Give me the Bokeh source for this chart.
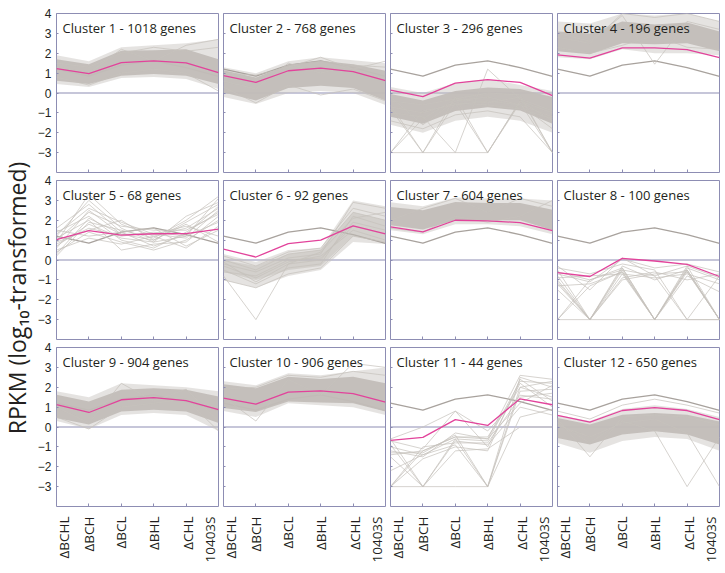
import math
from bokeh.plotting import figure
from bokeh.models import Range1d, FixedTicker, LinearAxis, Span, Label
from bokeh.layouts import gridplot, row
from bokeh.embed import file_html
from bokeh.resources import INLINE

# ---------------- data ----------------
CATEGORIES = ["ΔBCHL", "ΔBCH", "ΔBCL", "ΔBHL", "ΔCHL", "10403S"]
GENE_COUNTS = [1018, 768, 296, 196, 68, 92, 604, 100, 904, 906, 44, 650]
Y_TICKS = [4, 3, 2, 1, 0, -1, -2, -3]
Y_LABEL = "RPKM (log₁₀-transformed)"

# dark grey profile repeated in every panel
REFERENCE_PROFILE = [1.2, 0.85, 1.4, 1.62, 1.28, 0.84]

# magenta cluster mean profiles
MEAN_PROFILES = [
    [1.23, 0.98, 1.53, 1.62, 1.52, 1.03],
    [0.87, 0.53, 1.12, 1.25, 1.08, 0.62],
    [0.15, -0.18, 0.50, 0.67, 0.53, -0.13],
    [1.92, 1.75, 2.27, 2.27, 2.18, 1.78],
    [1.03, 1.48, 1.25, 1.32, 1.33, 1.55],
    [0.55, 0.15, 0.82, 1.00, 1.72, 1.32],
    [1.67, 1.42, 2.00, 1.97, 1.88, 1.48],
    [-0.63, -0.83, 0.08, -0.05, -0.22, -0.83],
    [1.12, 0.73, 1.37, 1.48, 1.33, 0.87],
    [1.45, 1.15, 1.75, 1.82, 1.68, 1.25],
    [-0.67, -0.52, 0.37, 0.08, 1.42, 1.12],
    [0.58, 0.25, 0.83, 0.98, 0.83, 0.37],
]

# dense core of the gene profiles (None = no dense core)
CORE_LOW = [
    [0.62, 0.45, 0.87, 0.95, 0.87, 0.45],
    [0.03, -0.38, 0.25, 0.37, 0.25, -0.38],
    [-1.2, -1.55, -0.9, -0.72, -0.88, -1.55],
    [2.1, 1.95, 2.5, 2.45, 2.5, 2.1],
    None,
    [-0.6, -1.0, -0.5, -0.3, 1.2, 0.9],
    [1.75, 1.53, 2.0, 2.0, 2.0, 1.5],
    None,
    [0.45, 0.12, 0.78, 0.87, 0.78, 0.2],
    [0.95, 0.75, 1.28, 1.23, 1.2, 0.78],
    None,
    [-0.55, -0.88, -0.38, -0.22, -0.38, -0.88],
]
CORE_HIGH = [
    [1.7, 1.45, 2.12, 2.15, 2.2, 1.7],
    [1.15, 0.78, 1.42, 1.62, 1.45, 1.12],
    [-0.05, -0.38, 0.1, 0.28, 0.2, -0.2],
    [3.1, 3.0, 3.6, 3.45, 3.55, 3.1],
    None,
    [0.0, -0.3, 0.3, 0.5, 2.4, 2.0],
    [2.67, 2.5, 2.92, 2.87, 2.87, 2.53],
    None,
    [1.62, 1.28, 1.87, 1.95, 1.87, 1.53],
    [2.15, 1.95, 2.53, 2.42, 2.53, 2.2],
    None,
    [0.45, 0.12, 0.62, 0.7, 0.62, 0.28],
]

# sparse outer fringe of the gene profiles
SPREAD_LOW = [
    [0.45, 0.3, 0.75, 0.8, 0.7, 0.2],
    [-0.2, -0.55, 0.0, 0.1, 0.0, -0.6],
    [-1.6, -2.0, -1.4, -1.2, -1.4, -2.0],
    [1.8, 1.7, 2.2, 2.0, 2.0, 1.9],
    None,
    [-1.0, -1.4, -0.8, -0.5, 0.9, 0.8],
    [1.5, 1.3, 1.8, 1.8, 1.7, 1.3],
    None,
    [0.3, -0.1, 0.6, 0.7, 0.6, -0.2],
    [0.8, 0.5, 1.2, 1.1, 1.0, 0.6],
    None,
    [-0.8, -1.3, -0.7, -0.5, -0.6, -1.2],
]
SPREAD_HIGH = [
    [1.9, 1.6, 2.3, 2.4, 2.5, 2.7],
    [1.3, 1.0, 1.6, 1.8, 1.65, 1.5],
    [0.3, 0.0, 0.5, 0.7, 0.4, 0.1],
    [3.6, 3.5, 4.0, 3.9, 4.0, 3.6],
    None,
    [0.3, -0.1, 0.5, 0.6, 3.0, 2.7],
    [2.9, 2.7, 3.15, 3.1, 3.1, 3.0],
    None,
    [1.8, 1.5, 2.2, 2.1, 2.0, 1.8],
    [2.3, 2.1, 2.7, 2.6, 2.8, 3.0],
    None,
    [0.6, 0.3, 0.9, 1.1, 0.9, 0.5],
]

# individual gene profiles that stand out of the bands
GENES_C1 = [[1.3, 1.0, 2.2, 1.6, 2.4, 2.7], [0.8, 0.4, 1.0, 1.2, 1.0, 0.1],
            [1.5, 1.3, 2.0, 2.3, 2.1, 2.3]]
GENES_C2 = [[0.3, -0.5, 0.4, -0.1, 0.2, -0.4], [1.0, 0.9, 1.3, 1.8, 1.2, 1.6],
            [0.6, 0.2, 1.5, 1.0, 1.4, 1.3]]
GENES_C3 = [[-3.0, -0.9, -0.6, -0.4, -0.6, -1.2], [-3.0, -1.3, -0.3, -0.5, -0.2, -3.0],
            [-0.6, -3.0, -0.2, -3.0, -0.5, -3.0], [-0.8, -3.0, -3.0, -3.0, -0.4, -1.0],
            [-1.0, -1.2, -3.0, 1.2, -0.3, -0.9], [-0.4, -0.6, -0.3, 0.0, -0.1, -3.0],
            [-0.7, -1.0, -0.5, -3.0, -0.4, -1.4], [-3.0, -3.0, -0.5, -0.6, -0.8, -1.3],
            [-1.4, -1.8, -1.1, -0.9, -1.2, -3.0], [-0.2, -1.6, -0.4, -0.2, -0.6, -1.8]]
GENES_C4 = [[3.0, 2.6, 3.9, 1.45, 3.6, 3.2], [2.8, 2.5, 4.0, 3.8, 4.0, 3.6],
            [2.3, 2.0, 2.4, 2.9, 2.3, 2.2]]
GENES_C5 = [[0.9, 3.3, 1.8, 1.2, 1.6, 2.6], [1.2, 3.0, 1.6, 0.9, 1.2, 3.1],
            [0.6, 2.5, 1.3, 1.0, 1.9, 2.8], [1.4, 2.2, 1.0, 0.6, 1.4, 2.4],
            [0.2, 1.9, 1.5, 1.1, 2.0, 3.2], [1.1, 2.0, 0.5, 0.8, 0.9, 2.2],
            [0.8, 1.6, 1.2, 1.4, 1.2, 1.9], [1.5, 1.2, 1.4, 1.6, 0.7, 1.5],
            [0.4, 1.4, 0.9, 0.5, 1.0, 2.0], [1.3, 2.6, 1.9, 1.3, 1.7, 1.2],
            [0.7, 1.8, 1.1, 0.9, 2.2, 2.9], [1.0, 2.4, 1.7, 1.5, 1.5, 2.3],
            [0.5, 1.1, 0.8, 1.2, 0.6, 1.7], [1.6, 2.8, 1.4, 0.7, 1.3, 2.7],
            [0.9, 1.5, 2.0, 1.0, 1.8, 0.9], [0.3, 2.1, 1.3, 1.3, 1.1, 2.5]]
GENES_C6 = [[-0.2, -0.6, 0.1, 0.3, 2.9, 2.6], [-0.5, -1.2, -0.4, -0.2, 2.2, 1.7],
            [0.2, -0.3, 0.4, 0.6, 2.6, 2.2], [-0.8, -3.0, -0.2, 0.0, 1.9, 1.5],
            [-0.3, -0.9, -0.1, 0.2, 1.5, 1.0], [-1.0, -1.4, -0.7, -0.4, 1.2, 0.9],
            [0.0, -0.5, 0.3, 0.5, 2.4, 2.0], [-0.6, -0.8, 0.0, 0.1, 1.7, 1.3],
            [-0.1, -1.1, -0.2, 0.4, 2.1, 2.4]]
GENES_C7 = [[2.0, 2.6, 3.1, 2.4, 3.1, 2.7], [1.6, 1.4, 2.2, 1.9, 2.2, 3.0]]
GENES_C8 = [[-0.8, -3.0, -0.5, -3.0, -0.5, -3.0], [-1.0, -3.0, -0.4, -3.0, -0.6, -3.0],
            [-0.5, -3.0, -0.3, -1.0, -0.5, -3.0], [-1.3, -1.2, -0.6, -3.0, -0.4, -1.0],
            [-3.0, -1.0, -0.5, -0.8, -3.0, -0.8], [-0.3, -1.5, 0.1, -0.8, -0.3, -3.0],
            [-3.0, -3.0, -3.0, -3.0, -3.0, -3.0], [-0.9, -0.8, -0.7, -0.9, -0.7, -1.2],
            [-1.5, -3.0, -0.9, -0.6, -1.0, -0.7], [-0.6, -1.0, -0.4, -3.0, -0.8, -1.6],
            [-1.1, -3.0, -0.7, -3.0, -0.3, -0.9], [-0.4, -0.7, -0.2, -0.5, -3.0, -3.0],
            [-1.2, -3.0, -1.0, -0.7, -0.6, -3.0], [-3.0, -1.3, -0.6, -3.0, -0.5, -3.0],
            [-0.7, -1.1, 0.05, -0.4, -0.2, -0.6]]
GENES_C9 = [[1.0, 0.2, 2.2, 1.3, 1.9, 0.3], [0.5, -0.1, 1.0, 1.2, 1.4, -0.2]]
GENES_C10 = [[1.5, 0.3, 2.4, 1.6, 3.2, 3.0], [1.9, 2.0, 2.6, 2.5, 2.8, 2.6]]
GENES_C11 = [[-3.0, -1.2, -0.5, -0.6, 2.6, 2.4], [-1.5, -3.0, -0.6, -0.7, 2.3, 2.2],
             [-3.0, -3.0, -3.0, -3.0, 2.0, 1.5], [-1.0, -1.4, -0.9, -3.0, 1.8, 1.9],
             [-0.7, -1.1, 0.8, -1.0, 2.2, 1.0], [-3.0, -1.0, -0.8, -0.8, 1.5, 1.7],
             [-1.3, -1.3, -0.4, -3.0, 2.5, 2.0], [-0.6, -3.0, -1.2, -1.1, 0.0, 0.0],
             [-1.2, -1.5, -0.3, -0.6, 1.2, 2.1], [-3.0, -1.6, -1.0, -1.2, 2.4, 1.3],
             [-0.9, -3.0, -0.7, -0.9, 1.0, 0.6], [-1.4, -1.2, -0.5, -0.5, 2.0, 2.3],
             [-2.2, -1.4, -0.6, -3.0, 0.5, 0.9], [-0.6, 0.0, 0.8, -0.2, 1.6, 1.4]]
GENES_C12 = [[0.2, -0.8, 0.3, -0.2, -3.0, -0.5], [0.1, -0.5, 0.2, 0.4, -0.3, -3.0],
             [0.4, -1.5, 0.5, 0.6, 0.5, 0.1], [0.8, 0.4, 1.1, 1.4, 1.1, 0.7]]

GENE_LINES = [GENES_C1, GENES_C2, GENES_C3, GENES_C4, GENES_C5, GENES_C6,
              GENES_C7, GENES_C8, GENES_C9, GENES_C10, GENES_C11, GENES_C12]

# ---------------- styling / layout ----------------
FONT = "Open Sans"
TICK_FONT = "Liberation Sans"
TEXT = "#231f20"
FRAME = "#8d8db3"
GENE = "#c6c1bc"
CORE = "#c2bdb8"
REF = "#a8a29d"
MAGENTA = "#e2439b"
FRAME_W, FRAME_H = 162, 159
LABEL_POS = [0.22, 1, 2, 3, 4.05, 4.75]
STRIP_W = 34

X = list(range(len(CATEGORIES)))


def make_panel(k, r, c):
    p = figure(
        frame_width=FRAME_W, frame_height=FRAME_H,
        x_range=Range1d(0, len(CATEGORIES) - 1), y_range=Range1d(-4, 4),
        output_backend="svg", toolbar_location=None, title=None,
        min_border_left=19 if c == 0 else 3,
        min_border_right=5 if c == 3 else 2,
        min_border_top=13 if r == 0 else 7,
        min_border_bottom=62 if r == 2 else 1,
        background_fill_color="white", border_fill_color="white",
        outline_line_color=FRAME, outline_line_width=1,
    )
    p.grid.visible = False

    # y axis (ticks inside, labels only for the first column)
    yax = p.yaxis[0]
    yax.ticker = FixedTicker(ticks=Y_TICKS)
    yax.major_tick_in = 2
    yax.major_tick_out = 0
    yax.minor_tick_in = 0
    yax.minor_tick_out = 0
    yax.axis_line_color = None
    yax.major_tick_line_color = FRAME
    if c == 0:
        yax.major_label_text_font = TICK_FONT
        yax.major_label_text_font_size = "12px"
        yax.major_label_text_color = TEXT
        yax.major_label_standoff = 5
    else:
        yax.major_label_overrides = {t: "" for t in Y_TICKS}
        yax.major_label_standoff = 0

    # x axis: inward tick marks only
    xax = p.xaxis[0]
    xax.ticker = FixedTicker(ticks=X[1:-1])
    xax.major_tick_in = 3
    xax.major_tick_out = 0
    xax.minor_tick_in = 0
    xax.minor_tick_out = 0
    xax.axis_line_color = None
    xax.major_tick_line_color = FRAME
    xax.major_label_overrides = {t: "" for t in X[1:-1]}
    xax.major_label_standoff = 0

    if r == 2:
        lab = LinearAxis(
            ticker=FixedTicker(ticks=LABEL_POS),
            major_label_overrides={pos: name for pos, name in zip(LABEL_POS, CATEGORIES)},
            major_label_orientation=math.pi / 2,
            major_tick_in=0, major_tick_out=0, minor_tick_in=0, minor_tick_out=0,
            axis_line_color=None, major_label_standoff=10,
            major_label_text_font=FONT, major_label_text_font_size="13.5px",
            major_label_text_color=TEXT,
        )
        p.add_layout(lab, "below")

    p.add_layout(Span(location=0, dimension="width", line_color=FRAME,
                      line_width=1, level="underlay"))

    if SPREAD_LOW[k] is not None:
        p.varea(x=X, y1=SPREAD_LOW[k], y2=SPREAD_HIGH[k], fill_color=GENE, fill_alpha=0.45)
    p.line(X, REFERENCE_PROFILE, line_color=REF, line_width=1.3)
    if CORE_LOW[k] is not None:
        p.varea(x=X, y1=CORE_LOW[k], y2=CORE_HIGH[k], fill_color=CORE,
                fill_alpha=0.5 if k == 5 else 0.95)
    lines = GENE_LINES[k]
    p.multi_line(xs=[X] * len(lines), ys=lines, line_color=GENE, line_alpha=0.8, line_width=0.9)
    p.line(X, MEAN_PROFILES[k], line_color=MAGENTA, line_width=1.3)

    p.add_layout(Label(x=0, y=4, x_offset=6, y_offset=-14,
                       text=f"Cluster {k + 1} - {GENE_COUNTS[k]} genes",
                       text_font=FONT, text_font_size="13px", text_color=TEXT,
                       text_baseline="alphabetic", text_align="left"))
    return p


panels = []
for r in range(3):
    panels.append([make_panel(r * 4 + c, r, c) for c in range(4)])

grid = gridplot(panels, toolbar_location=None)

TOTAL_H = (13 + FRAME_H + 1) + (7 + FRAME_H + 1) + (7 + FRAME_H + 62)
lab_fig = figure(frame_width=STRIP_W, frame_height=TOTAL_H, x_range=Range1d(0, STRIP_W),
                 y_range=Range1d(0, TOTAL_H), output_backend="svg",
                 toolbar_location=None, title=None, min_border=0,
                 outline_line_color=None, background_fill_color="white",
                 border_fill_color="white")
lab_fig.axis.visible = False
lab_fig.grid.visible = False
lab_fig.add_layout(Label(x=16, y=TOTAL_H - 297.5, text=Y_LABEL, angle=math.pi / 2,
                         text_align="center", text_baseline="middle",
                         text_font=FONT, text_font_size="23px", text_color=TEXT))

layout = row(lab_fig, grid)

open("out.html", "w").write(file_html(layout, INLINE))
